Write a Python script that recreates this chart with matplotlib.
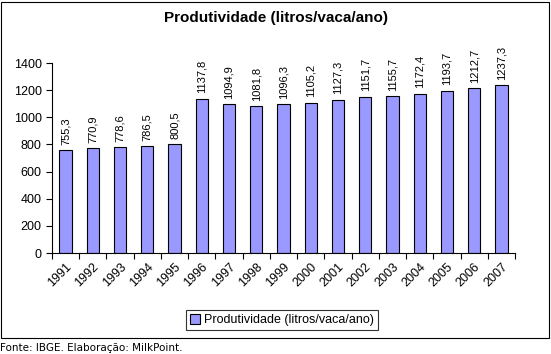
import numpy as np
import matplotlib
matplotlib.use("Agg")
import matplotlib.pyplot as plt
from matplotlib.patches import Rectangle

anos = ["1991", "1992", "1993", "1994", "1995", "1996", "1997", "1998", "1999",
        "2000", "2001", "2002", "2003", "2004", "2005", "2006", "2007"]
produtividade = [755.3, 770.9, 778.6, 786.5, 800.5, 1137.8, 1094.9, 1081.8, 1096.3,
                 1105.2, 1127.3, 1151.7, 1155.7, 1172.4, 1193.7, 1212.7, 1237.3]
rotulos = ["755,3", "770,9", "778,6", "786,5", "800,5", "1137,8", "1094,9", "1081,8", "1096,3",
           "1105,2", "1127,3", "1151,7", "1155,7", "1172,4", "1193,7", "1212,7", "1237,3"]

plt.rcParams['font.family'] = ['Liberation Sans', 'DejaVu Sans']

fig = plt.figure(figsize=(5.51, 3.54), dpi=100)
ax = fig.add_axes([52 / 551, 1 - 253 / 354, 463 / 551, 190 / 354])

x = np.arange(len(anos))
bars = ax.bar(x, produtividade, width=0.45, color="#9999FF", edgecolor="black",
              linewidth=0.8, label="Produtividade (litros/vaca/ano)")

for xi, v, txt in zip(x, produtividade, rotulos):
    ax.annotate(txt, (xi, v), xytext=(0, 4), textcoords="offset points",
                rotation=90, ha="center", va="bottom", fontsize=8)

ax.set_xlim(-0.5, len(anos) - 0.5)
ax.set_ylim(0, 1400)
ax.set_yticks(range(0, 1401, 200))
ax.tick_params(axis="y", labelsize=9, direction="out", length=4, width=0.8)

ax.set_xticks(x)
ax.set_xticklabels(anos, rotation=45, ha="right", rotation_mode="anchor", fontsize=9)
ax.tick_params(axis="x", which="major", length=0, pad=6)
ax.set_xticks(np.arange(-0.5, len(anos)), minor=True)
ax.tick_params(axis="x", which="minor", length=4, width=0.8, direction="out")

for s in ["top", "right"]:
    ax.spines[s].set_visible(False)
for s in ["left", "bottom"]:
    ax.spines[s].set_linewidth(0.8)

fig.text(0.5, 1 - 18 / 354, "Produtividade (litros/vaca/ano)", ha="center", va="center",
         fontsize=11, fontweight="bold")

leg = fig.legend(handles=[bars], loc="center", bbox_to_anchor=(282 / 551, 1 - 320 / 354),
                 fontsize=9, frameon=True, fancybox=False, edgecolor="black",
                 handlelength=0.8, handleheight=0.8, handletextpad=0.3,
                 borderpad=0.3, borderaxespad=0)
leg.get_frame().set_linewidth(0.8)

fig.patches.append(Rectangle((1 / 551, 1 - 338 / 354), 548 / 551, 336 / 354,
                             transform=fig.transFigure, fill=False,
                             edgecolor="black", linewidth=0.8))

fig.text(0.0, 1 - 348 / 354, "Fonte: IBGE. Elaboração: MilkPoint.", ha="left",
         va="center", fontsize=7.5, family="DejaVu Sans")

fig.savefig("out.png", dpi=100)
